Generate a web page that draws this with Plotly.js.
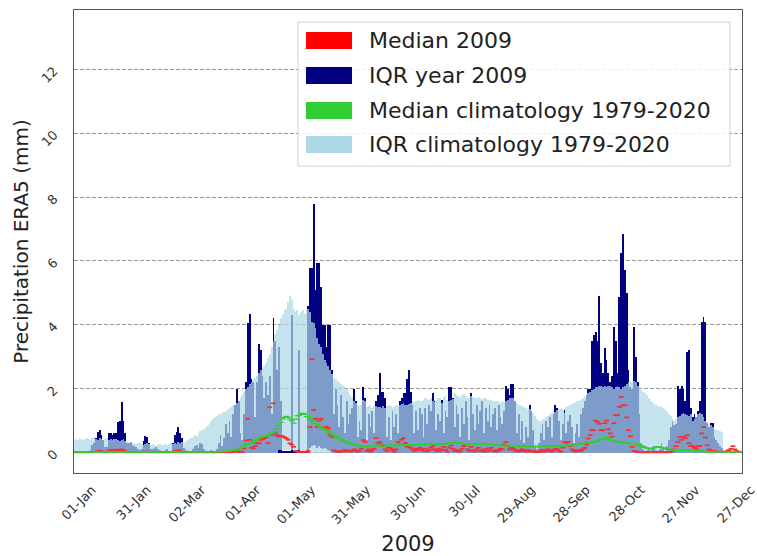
<!DOCTYPE html>
<html>
<head>
<meta charset="utf-8">
<script src="https://cdn.plot.ly/plotly-3.0.1.min.js"></script>
<style>
  html, body { margin: 0; padding: 0; background: #ffffff; }
  #chart { width: 757px; height: 556px; }
</style>
</head>
<body>
<div id="chart"></div>
<script>
// ---------- DATA (daily values, day 0 = 01-Jan-2009) ----------
const tickDays = [0, 30, 60, 90, 120, 150, 180, 210, 240, 270, 300, 330, 360];
const tickLabels = ["01-Jan", "31-Jan", "02-Mar", "01-Apr", "01-May", "31-May", "30-Jun",
                    "30-Jul", "29-Aug", "28-Sep", "28-Oct", "27-Nov", "27-Dec"];
const yTicks = [0, 2, 4, 6, 8, 10, 12];

// IQR year 2009: lower quartile (Q1) and upper quartile (Q3)
const q1_2009 = [
0,0,0,0,0,0,0,0,0,0, 0,0,0,0,0,0,0,0,0,0, 0,0,0,0,0,0,0,0,0,0,
0,0,0,0,0,0,0,0,0,0, 0,0,0,0,0,0,0,0,0,0, 0,0,0,0,0,0,0,0,0,0,
0,0,0,0,0,0,0,0,0,0, 0,0,0,0,0,0,0,0,0,0, 0,0,0,0,0,0,0,0,0,0,
0,0,0,0,0,0,0,0,0,0, 0,0,0,0,0,0,0,0,0,0, 0,0,0,0,0,0,0,0,0,0,
0,0,0,0,0,0,0,0,0,0.15, 0.20,0.25,0.20,0.15,0.20,0.15,0.10,0.15,0.10,0.08,
0.05,0,0,0,0,0,0,0,0,0, 0,0,0,0,0,0,0,0,0,0, 0,0,0,0,0,0,0,0,0,0,
0,0,0,0,0,0,0,0,0,0, 0,0,0,0,0,0,0,0,0,0, 0,0,0,0,0,0,0,0,0,0,
0,0,0,0,0,0,0,0,0,0, 0,0,0,0,0,0,0,0,0,0, 0,0,0,0,0,0,0,0,0,0,
0,0,0,0,0,0,0,0,0,0, 0,0,0,0,0,0,0,0,0,0, 0,0,0,0,0,0,0,0,0,0,
0,0,0,0,0,0,0,0,0,0, 0,0,0,0,0,0,0,0,0,0, 0,0,0,0,0,0,0,0,0,0,
0,0,0,0,0,0,0,0,0,0, 0,0,0,0,0,0,0,0,0,0, 0,0,0,0,0,0,0,0,0,0,
0,0,0,0,0,0,0,0,0,0, 0,0,0,0,0,0,0,0,0,0, 0,0,0,0,0,0,0,0,0,0,
0,0,0,0,0
];
const q3_2009 = [
0.02,0.03,0.02,0.05,0.03,0.02,0.04,0.03,0.05,0.08,
0.25,0.30,0.45,0.65,0.70,0.55,0.40,0.17,0.17,0.60,
0.62,0.55,0.62,0.62,0.95,1.00,1.58,1.00,0.60,0.30,
0.30,0.33,0.25,0.20,0.17,0.12,0.08,0.10,0.35,0.52,
0.50,0.30,0.12,0.10,0.14,0.18,0.12,0.08,0.06,0.05,
0.08,0.10,0.06,0.05,0.30,0.55,0.65,0.80,0.60,0.45,
0.15,0.08,0.05,0.03,0.04,0.10,0.20,0.25,0.15,0.30,
0.28,0.12,0.05,0.03,0.05,0.08,0.05,0.04,0.10,0.30,
0.55,0.20,0.45,0.90,0.60,1.00,0.50,1.20,1.50,2.00,
1.60,0.60,0.40,1.20,2.20,4.05,4.35,2.30,2.20,1.10,
2.20,3.40,3.20,2.40,1.70,2.20,1.80,2.40,1.20,4.20,
3.50,2.60,3.30,1.60,0.05,0.04,0.05,0.05,0.06,4.30,
0.05,0.05,0.05,3.20,0.05,0.05,0.05,0.05,4.60,5.77,
5.77,7.80,5.10,5.94,5.94,5.20,4.00,4.00,3.30,4.00,
4.00,2.60,1.20,2.00,1.50,0.80,1.80,1.10,0.60,1.60,
0.90,1.20,1.40,2.00,1.60,0.50,1.00,0.70,2.05,1.70,
0.40,1.20,0.80,1.30,0.60,1.60,1.80,2.48,1.90,1.90,
1.70,0.50,1.10,0.40,1.30,0.80,1.20,0.60,1.60,1.70,
1.85,1.85,2.30,2.58,1.90,1.50,0.60,1.30,0.70,1.40,
1.20,0.50,1.40,0.90,1.50,1.30,1.85,1.60,0.70,1.20,
1.00,1.64,0.60,1.30,1.10,2.06,2.06,1.70,0.80,1.50,
1.20,0.50,1.40,0.90,1.60,1.10,0.40,1.85,1.20,0.70,
1.50,0.90,1.30,1.60,0.60,1.40,1.00,1.50,0.80,1.20,
1.40,0.70,1.50,1.10,0.90,1.30,2.10,2.00,1.80,2.16,
2.16,1.60,0.60,1.20,0.40,1.00,0.30,0.80,0.50,1.48,
1.30,0.70,0.20,0.10,0.30,0.60,0.90,0.40,1.00,0.80,
1.10,0.50,1.20,1.48,1.40,1.00,0.40,0.90,1.33,0.60,
1.00,1.17,0.80,0.30,0.60,0.90,0.50,1.20,1.40,1.60,
1.80,2.00,2.00,3.50,3.67,3.78,3.50,4.90,2.80,2.50,
3.27,2.90,2.50,2.20,2.40,3.94,3.50,2.50,4.87,6.24,
6.84,5.71,5.00,2.60,2.05,2.00,3.94,3.00,2.20,1.20,
0.30,0.10,0.05,0.08,0.15,0.05,0.10,0.20,0.08,0.05,
0.10,0.30,0.15,0.05,0.20,0.40,0.80,1.00,0.85,0.90,
2.10,2.00,2.10,2.00,1.60,3.15,3.20,1.40,1.10,1.20,
1.10,1.30,1.60,4.10,4.25,4.10,0.92,0.80,0.92,0.92,
0.50,0.40,0.30,0.20,0.15,0.10,0.40,1.60,1.75,1.85,
1.95,0.40,0.35,0.15,0.10
];
// Median 2009
const median_2009 = [
0.01,0.01,0.01,0.01,0.01,0.01,0.01,0.01,0.01,0.01,
0.01,0.01,0.02,0.05,0.06,0.04,0.02,0.01,0.01,0.06,
0.08,0.05,0.07,0.09,0.06,0.08,0.10,0.07,0.04,0.01,
0.01,0.01,0.01,0.01,0.01,0.01,0.01,0.01,0.02,0.03,
0.03,0.01,0.01,0.01,0.01,0.01,0.01,0.01,0.01,0.01,
0.01,0.01,0.01,0.01,0.02,0.04,0.05,0.07,0.04,0.02,
0.01,0.01,0.01,0.01,0.01,0.01,0.01,0.01,0.01,0.01,
0.01,0.01,0.01,0.01,0.01,0.01,0.01,0.01,0.01,0.01,
0.01,0.01,0.01,0.02,0.01,0.01,0.01,0.02,0.03,0.05,
0.03,0.01,0.02,0.13,0.38,1.06,0.40,0.15,0.13,0.20,
0.29,0.30,0.40,0.42,0.45,0.49,0.30,1.42,0.55,1.54,
0.60,0.54,0.50,0.52,0.51,0.48,0.45,0.40,0.29,0.25,
0.18,0.05,0.03,0.02,0.03,0.02,0.03,0.02,0.05,0.80,
2.93,1.33,1.06,0.80,1.00,1.06,0.76,0.80,0.80,0.75,
0.55,0.49,0.07,0.05,0.03,0.02,0.05,0.03,0.08,0.04,
0.06,0.03,0.05,0.10,0.08,0.03,0.05,0.12,0.39,0.33,
0.05,0.10,0.03,0.08,0.12,0.45,0.30,0.33,0.25,0.20,
0.10,0.05,0.15,0.13,0.08,0.03,0.10,0.33,0.25,0.40,
0.45,0.30,0.18,0.20,0.15,0.10,0.05,0.12,0.08,0.15,
0.10,0.05,0.12,0.04,0.08,0.15,0.20,0.10,0.05,0.12,
0.05,0.10,0.18,0.08,0.03,0.15,0.22,0.12,0.05,0.08,
0.03,0.05,0.12,0.20,0.25,0.10,0.05,0.18,0.08,0.03,
0.10,0.15,0.05,0.08,0.03,0.12,0.05,0.10,0.15,0.05,
0.03,0.08,0.05,0.12,0.10,0.25,0.33,0.20,0.10,0.15,
0.12,0.05,0.08,0.03,0.06,0.10,0.05,0.03,0.08,0.05,
0.03,0.05,0.02,0.03,0.02,0.05,0.08,0.03,0.05,0.10,
0.05,0.03,0.08,0.12,0.10,0.05,0.03,0.15,0.33,0.30,
0.33,0.20,0.10,0.05,0.03,0.08,0.07,0.05,0.10,0.15,
0.25,0.44,0.55,0.70,0.70,1.00,0.96,0.90,0.70,0.70,
0.92,1.00,0.73,0.60,0.50,0.92,1.17,1.17,1.43,1.74,
1.48,1.48,1.10,0.70,0.51,0.18,0.05,0.03,0.02,0.01,
0.01,0.01,0.01,0.01,0.01,0.01,0.01,0.01,0.01,0.01,
0.01,0.01,0.01,0.01,0.01,0.01,0.02,0.05,0.10,0.20,
0.33,0.49,0.40,0.49,0.45,0.54,0.29,0.20,0.20,0.15,
0.12,0.20,0.20,0.60,0.80,0.47,0.23,0.10,0.05,0.05,
0.05,0.03,0.02,0.02,0.03,0.02,0.03,0.05,0.08,0.12,
0.20,0.10,0.05,0.03,0.02
];

// IQR climatology 1979-2020: lower (Q1) and upper (Q3) quartile
const q1_clim = [
0,0,0,0,0,0,0,0,0,0, 0,0,0,0,0,0,0,0,0,0, 0,0,0,0,0,0,0,0,0,0,
0,0,0,0,0,0,0,0,0,0, 0,0,0,0,0,0,0,0,0,0, 0,0,0,0,0,0,0,0,0,0,
0,0,0,0,0,0,0,0,0,0, 0,0,0,0,0,0,0,0,0,0, 0,0,0,0,0,0,0,0,0,0,
0,0,0,0,0,0,0,0,0,0, 0,0,0,0,0,0,0,0,0,0, 0,0,0.07,0.07,0.07,0.07,0.07,0.07,0.07,0.07,
0.07,0.07,0.07,0.07,0.07,0.07,0.07,0.07,0.07,0.07, 0,0,0,0,0,0,0,0,0,0,
0,0,0,0,0,0,0,0,0,0, 0,0,0,0,0,0,0,0,0,0, 0,0,0,0,0,0,0,0,0,0,
0,0,0,0,0,0,0,0,0,0, 0,0,0,0,0,0,0,0,0,0, 0,0,0,0,0,0,0,0,0,0,
0,0,0,0,0,0,0,0,0,0, 0,0,0,0,0,0,0,0,0,0, 0,0,0,0,0,0,0,0,0,0,
0,0,0,0,0,0,0,0,0,0, 0,0,0,0,0,0,0,0,0,0, 0,0,0,0,0,0,0,0,0,0,
0,0,0,0,0,0,0,0,0,0, 0,0,0,0,0,0,0,0,0,0, 0,0,0,0,0,0,0,0,0,0,
0,0,0,0,0,0,0,0,0,0, 0,0,0,0,0,0,0,0,0,0, 0,0,0,0,0,0,0,0,0,0,
0,0,0,0,0,0,0,0,0,0, 0,0,0,0,0,0,0,0,0,0, 0,0,0,0,0,0,0,0,0,0,
0,0,0,0,0
];
const q3_clim = [
0.35,0.42,0.40,0.45,0.43,0.38,0.44,0.47,0.42,0.40,
0.45,0.48,0.43,0.40,0.46,0.44,0.38,0.42,0.45,0.40,
0.43,0.38,0.41,0.44,0.40,0.36,0.39,0.42,0.37,0.33,
0.30,0.32,0.28,0.30,0.27,0.29,0.31,0.28,0.25,0.27,
0.30,0.26,0.24,0.28,0.25,0.22,0.24,0.27,0.23,0.25,
0.28,0.24,0.26,0.29,0.27,0.30,0.28,0.32,0.30,0.34,
0.30,0.35,0.38,0.42,0.45,0.50,0.55,0.52,0.60,0.66,
0.70,0.75,0.80,0.86,0.90,0.98,1.05,1.10,1.14,1.20,
1.18,1.25,1.28,1.30,1.35,1.40,1.42,1.48,1.50,1.55,
1.62,1.70,1.80,1.90,1.98,2.05,2.15,2.20,2.28,2.33,
2.40,2.50,2.58,2.65,2.72,2.80,2.95,3.10,3.30,3.50,
3.70,3.85,4.00,4.20,4.35,4.45,4.50,4.70,4.90,4.80,
4.50,4.40,4.45,4.30,4.40,4.45,4.35,4.45,4.50,4.40,
4.10,4.05,3.90,3.60,3.40,3.30,3.10,2.90,2.80,2.70,
2.60,2.45,2.35,2.30,2.25,2.20,2.15,2.10,2.05,2.00,
1.90,1.80,1.75,1.60,1.55,1.50,1.45,1.50,1.64,1.60,
1.42,1.45,1.50,1.40,1.45,1.45,1.43,1.43,1.40,1.45,
1.40,1.45,1.50,1.45,1.40,1.42,1.48,1.45,1.50,1.52,
1.55,1.50,1.48,1.52,1.55,1.60,1.58,1.62,1.65,1.60,
1.62,1.65,1.70,1.68,1.65,1.70,1.60,1.58,1.65,1.70,
1.72,1.55,1.75,1.80,1.65,1.62,1.64,1.68,1.85,1.80,
1.78,1.75,1.80,1.82,1.78,1.75,1.72,1.78,1.75,1.70,
1.72,1.75,1.70,1.68,1.72,1.70,1.65,1.68,1.65,1.62,
1.60,1.62,1.58,1.55,1.60,1.58,1.62,1.65,1.70,1.72,
1.70,1.62,1.55,1.50,1.48,1.45,1.42,1.40,1.38,1.35,
1.30,1.25,1.15,1.05,1.00,0.98,1.02,1.05,1.10,1.15,
1.20,1.25,1.30,1.28,1.32,1.35,1.38,1.35,1.25,1.42,
1.45,1.50,1.52,1.55,1.58,1.60,1.62,1.65,1.70,1.75,
1.80,1.85,1.90,1.95,2.00,2.05,2.05,2.10,2.08,2.05,
2.10,2.05,2.08,2.10,2.05,2.00,2.05,2.10,2.05,2.00,
2.05,2.10,2.15,2.20,2.25,2.20,2.25,2.20,2.10,2.00,
1.95,1.90,1.85,1.80,1.72,1.65,1.58,1.52,1.48,1.45,
1.42,1.45,1.40,1.35,1.30,1.22,1.15,1.05,1.00,1.05,
1.10,1.15,1.20,1.25,1.22,1.18,1.15,1.20,1.00,1.05,
1.10,1.20,1.25,1.20,1.10,1.00,0.95,0.90,0.85,0.80,
0.75,0.72,0.70,0.68,0.65,0.60,0.58,0.55,0.50,0.45,
0.40,0.35,0.30,0.25,0.22
];
// Median climatology 1979-2020
const median_clim = [
0.02,0.02,0.02,0.02,0.02,0.02,0.02,0.02,0.02,0.02,
0.02,0.02,0.02,0.02,0.02,0.02,0.02,0.02,0.02,0.02,
0.02,0.02,0.02,0.02,0.02,0.02,0.02,0.02,0.02,0.02,
0.02,0.02,0.02,0.02,0.02,0.02,0.02,0.02,0.02,0.02,
0.02,0.02,0.02,0.02,0.02,0.02,0.02,0.02,0.02,0.02,
0.02,0.02,0.02,0.02,0.02,0.02,0.02,0.02,0.02,0.02,
0.02,0.02,0.03,0.02,0.02,0.03,0.02,0.03,0.02,0.03,
0.03,0.02,0.03,0.02,0.02,0.03,0.03,0.02,0.03,0.03,
0.03,0.03,0.04,0.04,0.05,0.05,0.06,0.07,0.07,0.09,
0.12,0.15,0.18,0.22,0.25,0.28,0.26,0.30,0.34,0.38,
0.42,0.45,0.48,0.51,0.50,0.53,0.55,0.58,0.62,0.64,
0.66,0.75,0.85,0.95,1.05,1.10,1.13,1.10,1.05,1.00,
0.92,1.05,1.15,1.17,1.20,1.23,1.20,1.13,1.12,1.05,
1.00,0.96,0.92,0.88,0.84,0.80,0.76,0.72,0.68,0.64,
0.60,0.57,0.54,0.50,0.47,0.44,0.41,0.38,0.35,0.33,
0.31,0.29,0.27,0.25,0.24,0.23,0.22,0.21,0.20,0.19,
0.19,0.20,0.21,0.20,0.22,0.21,0.20,0.22,0.23,0.22,
0.21,0.22,0.23,0.22,0.21,0.23,0.24,0.22,0.23,0.24,
0.23,0.22,0.24,0.23,0.22,0.24,0.25,0.24,0.23,0.25,
0.26,0.24,0.25,0.27,0.26,0.25,0.27,0.28,0.26,0.27,
0.28,0.27,0.29,0.28,0.27,0.30,0.29,0.31,0.32,0.33,
0.30,0.28,0.29,0.27,0.28,0.26,0.27,0.28,0.26,0.27,
0.28,0.29,0.27,0.28,0.26,0.27,0.25,0.26,0.25,0.24,
0.23,0.24,0.22,0.23,0.22,0.21,0.23,0.22,0.21,0.22,
0.21,0.20,0.21,0.20,0.19,0.20,0.21,0.20,0.19,0.20,
0.19,0.20,0.19,0.18,0.19,0.20,0.19,0.20,0.21,0.20,
0.19,0.20,0.21,0.20,0.22,0.21,0.20,0.22,0.21,0.22,
0.23,0.22,0.24,0.25,0.24,0.26,0.27,0.28,0.27,0.29,
0.30,0.32,0.31,0.33,0.34,0.33,0.36,0.38,0.41,0.43,
0.45,0.48,0.44,0.40,0.37,0.35,0.36,0.34,0.32,0.30,
0.31,0.33,0.30,0.29,0.28,0.27,0.28,0.26,0.24,0.23,
0.21,0.19,0.16,0.14,0.13,0.12,0.13,0.15,0.17,0.18,
0.17,0.16,0.15,0.13,0.11,0.10,0.09,0.08,0.08,0.07,
0.07,0.08,0.07,0.07,0.08,0.07,0.06,0.07,0.07,0.06,
0.07,0.06,0.06,0.05,0.04,0.03,0.02,0.02,0.02,0.02,
0.02,0.02,0.02,0.02,0.02,0.02,0.02,0.02,0.02,0.02,
0.02,0.02,0.02,0.02,0.02
];

const legendLabels = ["Median 2009", "IQR year 2009", "Median climatology 1979-2020", "IQR climatology 1979-2020"];
const legendColors = ["#ff0000", "#000080", "#32cd32", "#add8e6"];

// ---------- BUILD ----------
const dayIdx = arr => arr.map((_, i) => i);
const heights = (lo, hi) => hi.map((v, i) => v - lo[i]);

const traces = [
  { type: "bar", name: legendLabels[1], x: dayIdx(q3_2009), y: heights(q1_2009, q3_2009), base: q1_2009,
    width: 1, marker: { color: "#000080", line: { width: 0 } }, showlegend: false, hoverinfo: "skip" },
  { type: "bar", name: legendLabels[3], x: dayIdx(q3_clim), y: heights(q1_clim, q3_clim), base: q1_clim,
    width: 1, marker: { color: "rgba(173,216,230,0.72)", line: { width: 0 } }, showlegend: false, hoverinfo: "skip" },
  { type: "scatter", mode: "markers", name: legendLabels[0], x: dayIdx(median_2009), y: median_2009,
    marker: { symbol: "line-ew", size: 3.5, color: "#ff2a2a", line: { color: "#ff2a2a", width: 1.7 } },
    showlegend: false, hoverinfo: "skip", cliponaxis: true },
  { type: "scatter", mode: "markers", name: legendLabels[2], x: dayIdx(median_clim), y: median_clim,
    marker: { symbol: "line-ew", size: 4, color: "#32cd32", line: { color: "#32cd32", width: 1.3 } },
    showlegend: false, hoverinfo: "skip", cliponaxis: true }
];

// plot-area pixel helpers for legend placement (plot area: x 74..742, y 10..473)
const PX = v => (v - 74) / 668;
const PY = v => (473 - v) / 463;
const shapes = [{
  type: "rect", xref: "paper", yref: "paper",
  x0: PX(298), x1: PX(730), y0: PY(166), y1: PY(22),
  line: { color: "#d0d0d0", width: 1 }, fillcolor: "rgba(255,255,255,0.85)", layer: "above"
}];
const annotations = [];
const rowTops = [32, 67, 102, 136];
legendLabels.forEach((lab, i) => {
  shapes.push({
    type: "rect", xref: "paper", yref: "paper",
    x0: PX(306), x1: PX(352), y0: PY(rowTops[i] + 17), y1: PY(rowTops[i]),
    line: { width: 0 }, fillcolor: legendColors[i], layer: "above"
  });
  annotations.push({
    xref: "paper", yref: "paper", x: PX(367), y: PY(rowTops[i] + 8.5),
    xanchor: "left", yanchor: "middle", showarrow: false, text: lab,
    font: { family: "DejaVu Sans, sans-serif", size: 22, color: "#222222" }
  });
});

const layout = {
  width: 757, height: 556,
  margin: { l: 74, r: 15, t: 10, b: 83, pad: 0 },
  paper_bgcolor: "#ffffff", plot_bgcolor: "#ffffff",
  barmode: "overlay", bargap: 0,
  showlegend: false,
  font: { family: "DejaVu Sans, sans-serif", color: "#222222" },
  xaxis: {
    range: [0, 365], tickmode: "array", tickvals: tickDays, ticktext: tickLabels,
    tickangle: -45, tickfont: { size: 13, color: "#333333" }, ticks: "",
    ticklabelshift: 18, ticklabelstandoff: 3, ticklabeloverflow: "allow",
    showgrid: false, zeroline: false,
    showline: true, mirror: true, linecolor: "#555555", linewidth: 1.3,
    title: { text: "2009", font: { size: 21, color: "#222222" }, standoff: 10 }
  },
  yaxis: {
    range: [-0.64, 13.86], tickmode: "array", tickvals: yTicks, ticktext: yTicks.map(String),
    tickangle: -45, tickfont: { size: 13, color: "#333333" }, ticks: "",
    ticklabelstandoff: 16,
    showgrid: true, gridcolor: "#9a9a9a", gridwidth: 1, griddash: "4px,2px",
    zeroline: false,
    showline: true, mirror: true, linecolor: "#555555", linewidth: 1.3,
    title: { text: "Precipitation ERA5 (mm)", font: { size: 20, color: "#222222" }, standoff: 4 }
  },
  shapes: shapes,
  annotations: annotations
};

Plotly.newPlot("chart", traces, layout, { staticPlot: true, displayModeBar: false });
</script>
</body>
</html>
